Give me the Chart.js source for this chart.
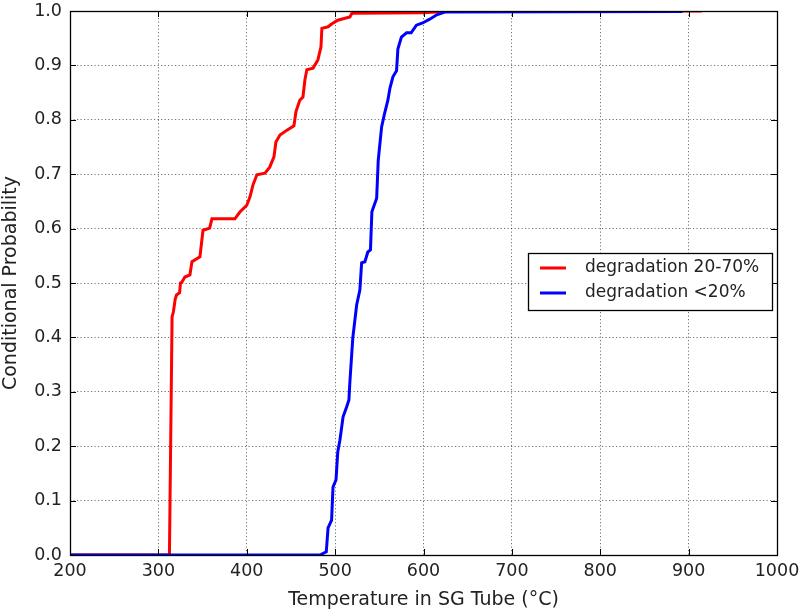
<!DOCTYPE html>
<html>
<head>
<meta charset="utf-8">
<script src="https://cdn.jsdelivr.net/npm/chart.js@4/dist/chart.umd.min.js"></script>
<style>
  html, body { margin: 0; padding: 0; background: #fff; }
  #wrap { width: 804px; height: 611px; }
</style>
</head>
<body>
<div id="wrap"><canvas id="canvas" width="804" height="611"></canvas></div>
<script>
// degradation 20-70% (red)
var redTemp = [200, 312.5, 315.5, 317, 319, 320.5, 324, 325, 326.7, 330, 335.7, 338, 347, 350.5, 358, 360.6, 386.6, 392, 400, 403.6, 407, 411.5, 420.6, 426, 430.8, 433, 437.6, 445.5, 453.4, 455.7, 460, 463.6, 465.8, 468, 475, 480.5, 484, 485, 492, 496, 503, 516.7, 519, 600, 625, 915];
var redProb = [0, 0, 0.438, 0.447, 0.47, 0.478, 0.482, 0.5, 0.502, 0.511, 0.515, 0.539, 0.548, 0.597, 0.601, 0.618, 0.618, 0.63, 0.643, 0.658, 0.68, 0.699, 0.702, 0.713, 0.732, 0.759, 0.772, 0.781, 0.789, 0.815, 0.836, 0.842, 0.873, 0.892, 0.895, 0.91, 0.934, 0.968, 0.971, 0.976, 0.983, 0.989, 0.996, 0.997, 0.999, 1.0];

// degradation <20% (blue)
var blueTemp = [200, 482.8, 490, 492, 496, 497.6, 501, 503, 505.4, 509, 513, 515.6, 516.7, 520, 524.4, 528, 530, 533.7, 537, 540, 541.6, 547, 548.8, 552.6, 556, 559.7, 562, 565.4, 569.5, 571, 575, 580.8, 586, 592, 599, 607, 615, 624, 893];
var blueProb = [0, 0, 0.006, 0.05, 0.064, 0.125, 0.138, 0.19, 0.211, 0.254, 0.272, 0.285, 0.318, 0.399, 0.46, 0.487, 0.537, 0.539, 0.557, 0.561, 0.631, 0.656, 0.726, 0.787, 0.812, 0.836, 0.858, 0.879, 0.89, 0.93, 0.952, 0.96, 0.96, 0.974, 0.978, 0.985, 0.993, 0.998, 0.999];

var seriesNames = ['degradation 20-70%', 'degradation <20%'];
var seriesColors = ['#ff0000', '#0000ff'];

function toPoints(xs, ys) {
    return xs.map(function(x, i){ return {x: x, y: ys[i]}; });
}

var tickFont = {family: 'DejaVu Sans', size: 17.5};
var labelFont = {family: 'DejaVu Sans', size: 19};

// frame, inward ticks on all four sides, and the boxed legend
var framePlugin = {
    id: 'frame',
    afterDraw: function(chart) {
        var ctx = chart.ctx, a = chart.chartArea;
        var xs = chart.scales.x, ys = chart.scales.y;
        ctx.save();
        ctx.strokeStyle = '#000';
        ctx.lineWidth = 1;
        ctx.beginPath();
        xs.ticks.forEach(function(t){
            var px = Math.round(xs.getPixelForValue(t.value)) + 0.5;
            ctx.moveTo(px, a.bottom); ctx.lineTo(px, a.bottom - 6);
            ctx.moveTo(px, a.top); ctx.lineTo(px, a.top + 6);
        });
        ys.ticks.forEach(function(t){
            var py = Math.round(ys.getPixelForValue(t.value)) + 0.5;
            ctx.moveTo(a.left, py); ctx.lineTo(a.left + 6, py);
            ctx.moveTo(a.right, py); ctx.lineTo(a.right - 6, py);
        });
        ctx.stroke();
        ctx.lineWidth = 1.3;
        ctx.strokeRect(Math.round(a.left) + 0.5, Math.round(a.top) + 0.5,
                       Math.round(a.right - a.left), Math.round(a.bottom - a.top));

        // legend
        var bx = a.right - 249, by = a.top + 242, bw = 244, bh = 57;
        ctx.fillStyle = '#fff';
        ctx.fillRect(bx, by, bw, bh);
        ctx.lineWidth = 1.3;
        ctx.strokeStyle = '#000';
        ctx.strokeRect(bx + 0.5, by + 0.5, bw, bh);
        ctx.font = '17px "DejaVu Sans"';
        ctx.textBaseline = 'middle';
        seriesNames.forEach(function(name, i){
            var ry = by + 15 + i * 25;
            ctx.strokeStyle = seriesColors[i];
            ctx.lineWidth = 3;
            ctx.beginPath();
            ctx.moveTo(bx + 12, ry); ctx.lineTo(bx + 38, ry);
            ctx.stroke();
            ctx.fillStyle = '#222';
            ctx.fillText(name, bx + 57, ry);
        });
        ctx.restore();
    }
};

var ctx = document.getElementById('canvas').getContext('2d');
var myChart = new Chart(ctx, {
    type: 'scatter',
    data: {
        datasets: [{
            label: seriesNames[0],
            data: toPoints(redTemp, redProb),
            showLine: true,
            borderColor: seriesColors[0],
            borderWidth: 3,
            pointRadius: 0,
            tension: 0,
            order: 2
        }, {
            label: seriesNames[1],
            data: toPoints(blueTemp, blueProb),
            showLine: true,
            borderColor: seriesColors[1],
            borderWidth: 3,
            pointRadius: 0,
            tension: 0,
            order: 1
        }]
    },
    options: {
        responsive: false,
        animation: false,
        layout: { padding: { left: 0, top: 11, right: 27, bottom: 0 } },
        plugins: {
            legend: { display: false },
            tooltip: { enabled: false }
        },
        scales: {
            x: {
                type: 'linear',
                min: 200, max: 1000,
                afterFit: function(s){ s.height = 56; s.paddingLeft = 0; s.paddingRight = 0; },
                grid: { color: 'rgba(0,0,0,0.55)', drawTicks: false },
                border: { display: false, dash: [1.2, 2.3] },
                ticks: { stepSize: 100, padding: 6, color: '#222', font: tickFont, maxRotation: 0,
                    callback: function(v){ return String(v); } },
                title: { display: true, text: 'Temperature in SG Tube (°C)', color: '#222', font: labelFont, padding: {top: 0, bottom: 0} }
            },
            y: {
                min: 0, max: 1,
                afterFit: function(s){ s.width = 70; s.paddingTop = 0; s.paddingBottom = 0; },
                grid: { color: 'rgba(0,0,0,0.55)', drawTicks: false },
                border: { display: false, dash: [1.2, 2.3] },
                ticks: { stepSize: 0.1, padding: 8, color: '#222', font: tickFont,
                    callback: function(v){ return v.toFixed(1); } },
                title: { display: true, text: 'Conditional Probability', color: '#222', font: labelFont, padding: {top: 0, bottom: 0} }
            }
        }
    },
    plugins: [framePlugin]
});
</script>
</body>
</html>
